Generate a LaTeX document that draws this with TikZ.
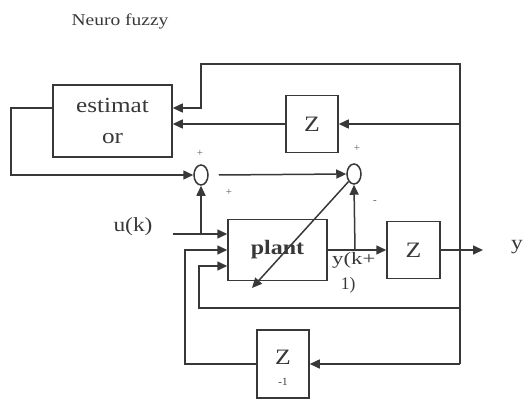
\documentclass[tikz,border=0pt]{standalone}
\usepackage{fontspec}
\setmainfont{Liberation Serif}
\usetikzlibrary{arrows.meta,calc,shapes.geometric}
\definecolor{ink}{HTML}{383838}
\newcommand{\widetxt}[1]{\scalebox{1.17}[1]{#1}}
\tikzset{
  blk/.style={draw=ink, line width=1.5pt, rectangle, inner sep=0pt, text=ink},
  sumj/.style={draw=ink, line width=1.5pt, ellipse, inner sep=0pt, minimum width=14, minimum height=20},
  arr/.style={draw=ink, line width=1.5pt, -{Triangle[length=10pt,width=9pt]}},
  lbl/.style={text=ink, inner sep=0pt},
  sgn/.style={text=ink!80, inner sep=0pt, font=\fontsize{11}{12}\selectfont}
}
\begin{document}
\begin{tikzpicture}[x=1pt,y=-1pt]
\useasboundingbox (0,0) rectangle (525,401);
\node[lbl, font=\fontsize{16.5}{18}\selectfont] (title) at (120,21) {\scalebox{1.18}[1]{Neuro fuzzy}};
% blocks
\node[blk, minimum width=119, minimum height=72, align=center, font=\fontsize{21.5}{31}\selectfont] (est) at (112.5,121) {\widetxt{estimat}\\\widetxt{or}};
\node[blk, minimum width=52, minimum height=57, font=\fontsize{22}{24}\selectfont] (z1) at (312,124) {\widetxt{Z}};
\node[blk, minimum width=99, minimum height=61, font=\bfseries\fontsize{20.5}{22}\selectfont] (plant) at (277.5,250) {\widetxt{plant}};
\node[blk, minimum width=53, minimum height=57, font=\fontsize{22}{24}\selectfont] (z2) at (413.5,250) {\widetxt{Z}};
\node[blk, minimum width=52, minimum height=68] (zinv) at (283,364) {};
\node[lbl, font=\fontsize{22}{24}\selectfont] (zinvz) at (283,357) {\widetxt{Z}};
\node[lbl, font=\fontsize{11}{12}\selectfont] (zinvm) at (283,382) {-1};
% summing junctions
\node[sumj] (s1) at (201,175) {};
\node[sumj] (s2) at (354,174) {};
% corner coordinates
\coordinate (rtop) at (460,64);
\coordinate (rmid) at (460,308);
\coordinate (lmid) at (199,308);
\coordinate (rbot) at (460,364);
\coordinate (lbot) at (185,364);
\coordinate (eleft) at (11,108);
\coordinate (uin) at (173,234);
\coordinate (yout) at (483,250);
\coordinate (diag) at (252,288);
% estimator output to sum1
\draw[arr] ($(est.west)+(0,-13)$) -- (eleft) |- (s1.west);
% sum1 to sum2
\draw[arr] ([xshift=10pt]s1.east) -- (s2.west);
% top feedback loop
\draw[arr] (rbot) -- (rtop) -| ($(est.east)+(28,-13)$) -- ($(est.east)+(0,-13)$);
\draw[arr] (460,124) -- (z1.east);
\draw[arr] (z1.west) -- (est.east |- z1.west);
% loop at 308
\draw[arr] (rmid) -- (lmid) |- ($(plant.west)+(0,16)$);
% z^-1 loop
\draw[arr] (rbot) -- (zinv.east);
\draw[arr] (zinv.west) -- (lbot) |- (plant.west);
% input u(k)
\node[lbl, font=\fontsize{20}{22}\selectfont] (ulbl) at (133,227) {\widetxt{u(k)}};
\draw[arr] (uin) -- ($(plant.west)+(0,-16)$);
\draw[arr] (201,234) -- (s1.south);
% plant output
\draw[arr] (plant.east) -- (z2.west);
\draw[arr] (z2.east) -- (yout);
\node[lbl, font=\fontsize{20}{22}\selectfont] (ylbl) at (517,247) {\widetxt{y}};
\draw[arr] (355,250) -- (s2.south);
\node[lbl, anchor=north west, align=left, font=\fontsize{17.5}{25}\selectfont] (yk) at (332,252) {\scalebox{1.3}[1]{y(k+}\\\ \ 1)};
% diagonal adaptation arrow
\draw[arr] (s2.south west) -- (diag);
% signs
\node[sgn] (p1) at (200,153) {+};
\node[sgn] (p2) at (229,192) {+};
\node[sgn] (p3) at (357,148) {+};
\node[sgn] (m1) at (375,202) {-};
\end{tikzpicture}
\end{document}
